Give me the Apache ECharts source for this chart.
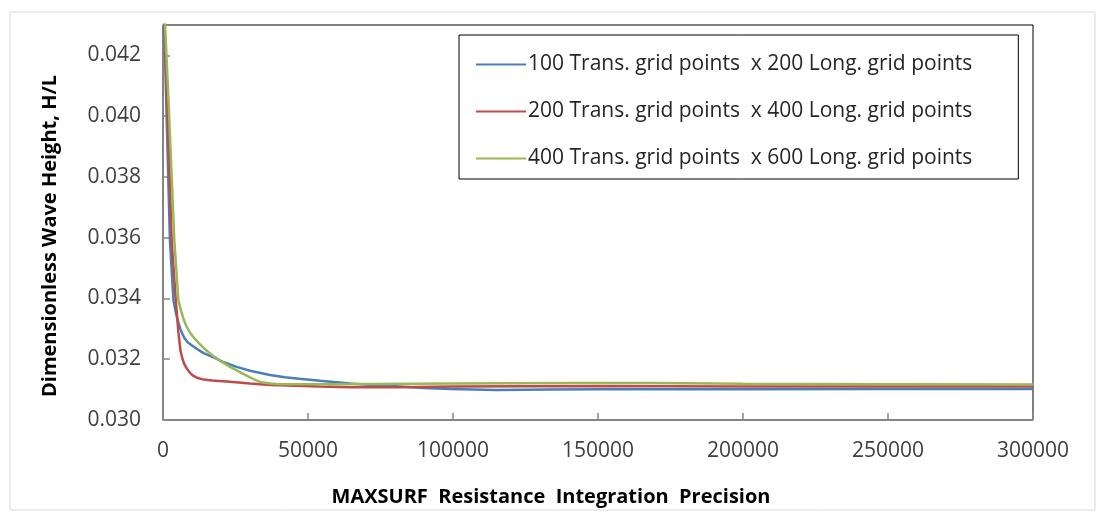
<!DOCTYPE html>
<html>
<head>
<meta charset="utf-8">
<script src="https://cdn.jsdelivr.net/npm/echarts@6/dist/echarts.min.js"></script>
<style>
  html, body { margin: 0; padding: 0; background: #fff; }
  #chart { width: 1105px; height: 523px; }
</style>
</head>
<body>
<div id="chart"></div>
<script>
// Series names
const seriesNames = [
  '100 Trans. grid points  x 200 Long. grid points',
  '200 Trans. grid points  x 400 Long. grid points',
  '400 Trans. grid points  x 600 Long. grid points'
];

// [integration precision, H/L]
const grid100x200 = [
  [0, 0.0445], [1200, 0.0402], [2400, 0.0359], [3600, 0.03395], [4500, 0.0335],
  [5300, 0.0332], [6000, 0.0330], [6700, 0.03283], [7500, 0.03268], [8600, 0.03255],
  [10000, 0.03245], [12000, 0.03232], [14000, 0.0322], [16000, 0.03212], [18000, 0.03204],
  [21000, 0.0319], [25400, 0.03175], [30000, 0.03162], [36900, 0.03148], [42000, 0.03141],
  [47000, 0.03136], [54100, 0.03129], [64500, 0.0312], [72000, 0.03115], [81700, 0.0311],
  [90000, 0.03105], [99000, 0.03102], [115000, 0.03099], [133000, 0.031], [150000, 0.03101],
  [200000, 0.03101], [250000, 0.03102], [300000, 0.03102]
];
const grid200x400 = [
  [0, 0.0445], [1500, 0.0402], [3000, 0.0359], [4400, 0.03395], [5300, 0.0329],
  [6000, 0.0323], [6600, 0.03205], [7300, 0.03185], [8200, 0.0317], [9300, 0.03155],
  [10500, 0.03145], [12000, 0.03138], [14000, 0.03133], [17000, 0.0313], [22000, 0.03127],
  [30000, 0.0312], [37000, 0.03115], [54000, 0.0311], [64500, 0.03108], [81700, 0.03108],
  [100000, 0.0311], [150000, 0.03112], [200000, 0.0311], [250000, 0.0311], [300000, 0.0311]
];
const grid400x600 = [
  [0, 0.0445], [2000, 0.0403], [3900, 0.03592], [5300, 0.03395], [6200, 0.0336],
  [7000, 0.03335], [8000, 0.0331], [9300, 0.03288], [10700, 0.0327], [12200, 0.03255],
  [14000, 0.03237], [16200, 0.03219], [18000, 0.03206], [20000, 0.03193], [22500, 0.03178],
  [25400, 0.03163], [28000, 0.0315], [30000, 0.0314], [32000, 0.03131], [34000, 0.03124],
  [37000, 0.0312], [40300, 0.03118], [60000, 0.03118], [100000, 0.0312], [140000, 0.03122],
  [170000, 0.03122], [200000, 0.03119], [250000, 0.03118], [300000, 0.03117]
];

const xTitle = 'MAXSURF  Resistance  Integration  Precision';
const yTitle = 'Dimensionless Wave Height, H/L';

const colors = ['#4a7ebb', '#be4b48', '#98b954'];
const textFont = 'Open Sans';

const chart = echarts.init(document.getElementById('chart'));

function lineSeries(name, data, color) {
  return {
    name: name,
    type: 'line',
    data: data,
    symbol: 'none',
    clip: true,
    lineStyle: { color: color, width: 2.5 },
    itemStyle: { color: color }
  };
}

chart.setOption({
  animation: false,
  backgroundColor: '#fff',
  graphic: [{
    type: 'rect',
    shape: { x: 10, y: 12, width: 1085, height: 498 },
    style: { fill: 'none', stroke: '#d9d9d9', lineWidth: 1 },
    silent: true,
    z: -1
  }],
  grid: {
    left: 163, right: 72, top: 25, bottom: 103,
    show: true, borderColor: '#000', borderWidth: 1, backgroundColor: '#fff'
  },
  legend: {
    orient: 'vertical',
    left: 459,
    top: 35,
    padding: [19, 46, 10, 17],
    icon: 'rect',
    itemWidth: 50,
    itemHeight: 2,
    itemGap: 26,
    borderColor: '#000',
    borderWidth: 1,
    backgroundColor: '#fff',
    textStyle: { fontFamily: textFont, fontSize: 21, color: '#262626', padding: [0, 0, 0, -3] },
    data: seriesNames
  },
  xAxis: {
    type: 'value',
    min: 0, max: 300000, interval: 50000,
    name: xTitle,
    nameLocation: 'middle',
    nameGap: 67,
    nameTextStyle: {
      fontFamily: textFont, fontSize: 20, fontWeight: 'bold', color: '#000',
      padding: [0, 94, 0, 0]
    },
    axisLine: { show: true, lineStyle: { color: '#868686', width: 1.5 } },
    axisTick: { show: true, inside: true, length: 7, lineStyle: { color: '#868686', width: 1.5 } },
    axisLabel: {
      fontFamily: textFont, fontSize: 21, color: '#404040', margin: 21,
      formatter: v => String(v)
    },
    splitLine: { show: false }
  },
  yAxis: {
    type: 'value',
    min: 0.030, max: 0.043, interval: 0.002,
    name: yTitle,
    nameLocation: 'middle',
    nameGap: 103,
    nameTextStyle: {
      fontFamily: textFont, fontSize: 20, fontWeight: 'bold', color: '#000',
      padding: [0, 27, 0, 0]
    },
    axisLine: { show: true, lineStyle: { color: '#868686', width: 1.5 } },
    axisTick: { show: true, inside: true, length: 7, lineStyle: { color: '#868686', width: 1.5 } },
    axisLabel: {
      fontFamily: textFont, fontSize: 21, color: '#404040', margin: 22,
      showMaxLabel: false,
      formatter: v => v.toFixed(3)
    },
    splitLine: { show: false }
  },
  series: [
    lineSeries(seriesNames[0], grid100x200, colors[0]),
    lineSeries(seriesNames[1], grid200x400, colors[1]),
    lineSeries(seriesNames[2], grid400x600, colors[2])
  ]
});
</script>
</body>
</html>
